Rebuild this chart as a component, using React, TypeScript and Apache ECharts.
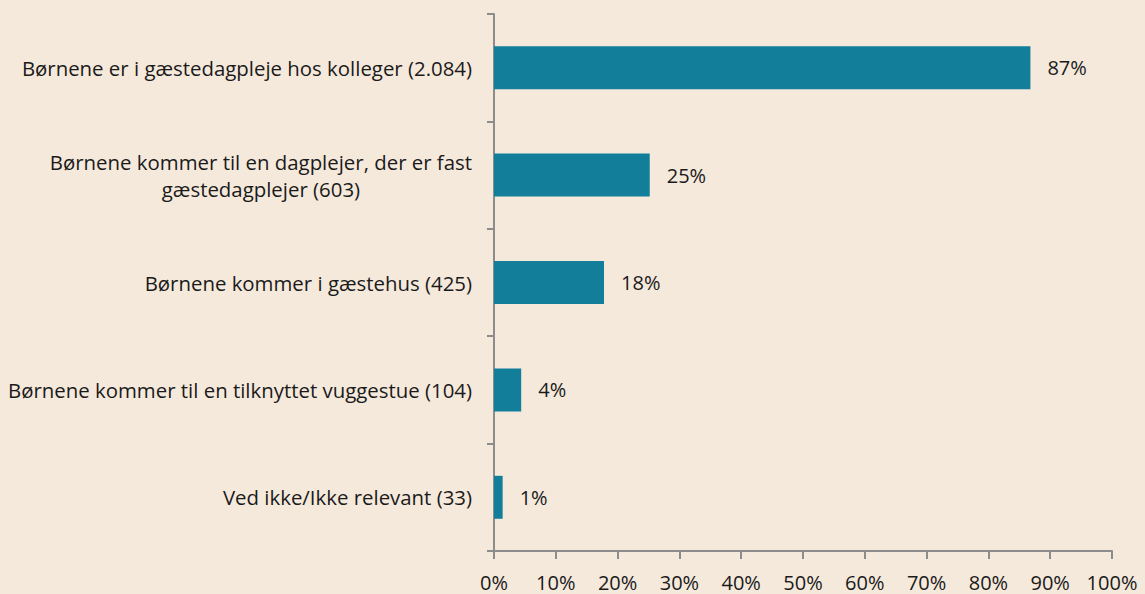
import React, { useEffect, useRef } from "react";
import * as echarts from "echarts";

const categories: string[] = [
  "Børnene er i gæstedagpleje hos kolleger (2.084)",
  "Børnene kommer til en dagplejer, der er fast\ngæstedagplejer (603)",
  "Børnene kommer i gæstehus (425)",
  "Børnene kommer til en tilknyttet vuggestue (104)",
  "Ved ikke/Ikke relevant (33)",
];
const values: number[] = [86.8, 25.2, 17.8, 4.4, 1.4];
const xTicks = { min: 0, max: 100, interval: 10 };

const FONT = "'Open Sans', 'Noto Sans', sans-serif";
const AXIS_COLOR = "#8c8c8c";
const TEXT_COLOR = "#1a1a1a";

export default function App() {
  const ref = useRef<HTMLDivElement>(null);
  useEffect(() => {
    if (!ref.current) return;
    const chart = echarts.init(ref.current, undefined, { renderer: "svg" });
    chart.setOption({
      animation: false,
      backgroundColor: "#f5e9dc",
      textStyle: { fontFamily: FONT },
      grid: { left: 494, right: 33, top: 14, bottom: 43, containLabel: false },
      xAxis: {
        type: "value",
        min: xTicks.min,
        max: xTicks.max,
        interval: xTicks.interval,
        axisLine: { show: true, lineStyle: { color: AXIS_COLOR, width: 2 } },
        axisTick: { show: true, length: 8, lineStyle: { color: AXIS_COLOR, width: 2 } },
        splitLine: { show: false },
        axisLabel: {
          formatter: "{value}%",
          fontSize: 20,
          color: TEXT_COLOR,
          fontFamily: FONT,
          margin: 21,
        },
      },
      yAxis: {
        type: "category",
        inverse: true,
        data: categories,
        axisLine: { show: true, lineStyle: { color: AXIS_COLOR, width: 2 } },
        axisTick: { show: true, length: 7, lineStyle: { color: AXIS_COLOR, width: 2 } },
        axisLabel: {
          margin: 22,
          formatter: (v: string) => `{c|${v}}`,
          rich: {
            c: {
              align: "center",
              fontSize: 20.4,
              lineHeight: 27,
              color: TEXT_COLOR,
              fontFamily: FONT,
            },
          },
        },
      },
      series: [
        {
          type: "bar",
          data: values,
          barCategoryGap: "60%",
          itemStyle: { color: "#127e9a" },
          label: {
            show: true,
            position: "right",
            distance: 17,
            fontSize: 20,
            color: TEXT_COLOR,
            fontFamily: FONT,
            formatter: (p: any) => `${Math.round(p.value)}%`,
          },
        },
      ],
    });
    return () => chart.dispose();
  }, []);
  return (
    <div
      ref={ref}
      style={{ position: "fixed", left: 0, top: 0, width: 1145, height: 594 }}
    />
  );
}
